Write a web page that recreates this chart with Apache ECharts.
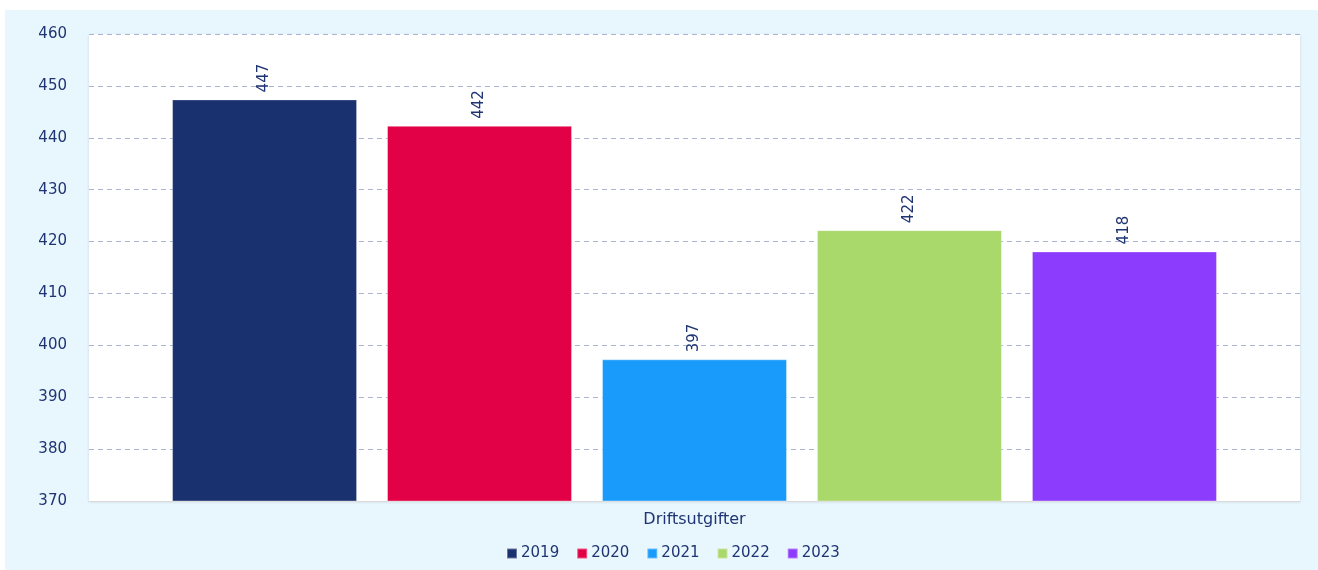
<!DOCTYPE html>
<html>
<head>
<meta charset="utf-8">
<script src="https://cdn.jsdelivr.net/npm/echarts@6/dist/echarts.min.js"></script>
<style>
	html, body { margin: 0; padding: 0; background: #ffffff; }
	#chart { width: 1318px; height: 570px; }
</style>
</head>
<body>
<div id="chart"></div>
<script>
const categories = ['Driftsutgifter'];
const years = ['2019', '2020', '2021', '2022', '2023'];
const values = [447.4, 442.3, 397.3, 422.2, 418.1];
const colors = ['#1a3170', '#e20046', '#199bfc', '#a9d86b', '#8c3cfc'];

const textColor = '#1f3473';
const font = 'DejaVu Sans';

var chart = echarts.init(document.getElementById('chart'));

let series = [];
for (let i = 0; i < years.length; i++) {
	series.push({
		name: years[i],
		type: 'bar',
		data: [values[i]],
		barWidth: 185,
		barGap: '16.2%',
		itemStyle: {
			color: colors[i],
			borderColor: 'rgba(255, 255, 255, 0.35)',
			borderWidth: 1
		},
		label: {
			show: true,
			position: 'top',
			rotate: 90,
			align: 'left',
			verticalAlign: 'middle',
			distance: 7,
			color: textColor,
			fontSize: 15,
			fontFamily: font,
			formatter: (p) => Math.round(p.value)
		}
	});
}

var option = {
	animation: false,
	textStyle: {
		fontFamily: font
	},
	graphic: [
		{
			type: 'rect',
			left: 5,
			top: 10,
			z: -10,
			shape: { width: 1313, height: 560 },
			style: { fill: '#e8f6fd' }
		}
	],
	grid: {
		show: true,
		left: 89,
		right: 18,
		top: 34,
		bottom: 69,
		backgroundColor: '#ffffff',
		borderWidth: 0,
		shadowColor: 'rgba(0, 0, 0, 0.12)',
		shadowBlur: 3,
		shadowOffsetY: 1
	},
	legend: {
		left: 501,
		top: 541,
		itemWidth: 10,
		itemHeight: 10,
		itemGap: 17,
		icon: 'rect',
		textStyle: {
			color: textColor,
			fontSize: 15,
			fontFamily: font,
			padding: [0, 0, 0, -1]
		},
		data: years
	},
	xAxis: {
		type: 'category',
		data: categories,
		axisLine: {
			lineStyle: { color: '#d9d9d9' }
		},
		axisTick: { show: false },
		axisLabel: {
			color: textColor,
			fontSize: 16,
			fontFamily: font,
			margin: 11
		}
	},
	yAxis: {
		type: 'value',
		min: 370,
		max: 460,
		interval: 10,
		axisLine: { show: false },
		axisTick: { show: false },
		axisLabel: {
			color: textColor,
			fontSize: 15,
			fontFamily: font,
			margin: 22
		},
		splitLine: {
			lineStyle: {
				color: '#a9b4d4',
				type: [5, 4]
			}
		}
	},
	series: series
};

chart.setOption(option);
</script>
</body>
</html>
